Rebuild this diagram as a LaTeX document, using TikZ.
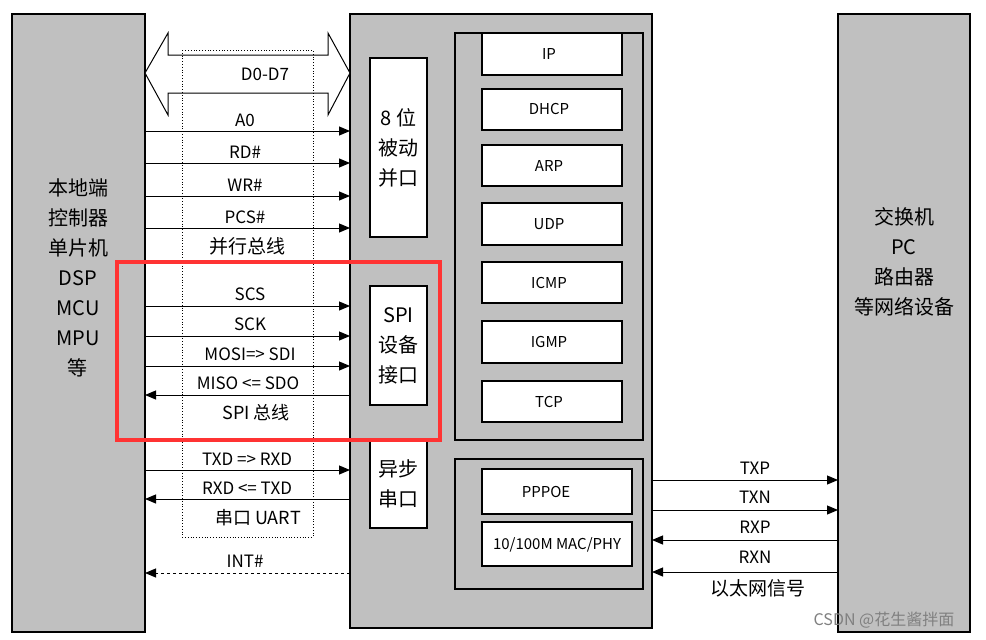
\documentclass[tikz,border=0pt]{standalone}
\usepackage{fontspec}
\setmainfont{Noto Sans CJK SC}
\usetikzlibrary{arrows.meta}
\definecolor{gr}{RGB}{192,192,192}
\begin{document}
\begin{tikzpicture}[x=1pt,y=-1pt,
 blk/.style={draw=black,line width=2pt,fill=gr},
 wb/.style={draw=black,line width=1.5pt,fill=white},
 ib/.style={draw=black,line width=1.2pt,fill=gr},
 sig/.style={line width=1pt,-{Triangle[length=11pt,width=9pt]}},
 lbl/.style={font=\fontsize{17}{17}\selectfont,inner sep=0pt},
 sl/.style={font=\fontsize{15}{15}\selectfont,inner sep=0pt},
 big/.style={font=\fontsize{20}{30}\selectfont,align=center,inner sep=0pt}]
\useasboundingbox (0,0) rectangle (986,640);
\fill[white] (0,0) rectangle (986,640);
\draw[blk] (12,14) rectangle (145,632);
\draw[blk] (350,14) rectangle (652,628);
\draw[blk] (838,14) rectangle (970,632);
\node[big] (L) at (78,278) {本地端\\控制器\\单片机\\DSP\\MCU\\MPU\\等};
\node[big] (R) at (904,262) {交换机\\PC\\路由器\\等网络设备};
\draw[line width=1pt,fill=white] (145,73)--(168,33)--(168,55)--(328,55)--(328,33)--(350,73)--(328,115)--(328,93)--(168,93)--(168,115)--cycle;
\draw[dotted,line width=0.8pt] (182,50) rectangle (313,537);
\node[lbl] (d07) at (265,74) {D0-D7};
% parallel
\node[wb,minimum width=57pt,minimum height=179pt,inner sep=0pt] (par) at (398.5,147.5) {};
\node[big] at (par) {8 位\\被动\\并口};
\foreach \y/\t in {131/A0,163/RD\#,196/WR\#,228/PCS\#}{
 \draw[sig] (145,\y)--(350,\y);
 \node[lbl] at (245,\y-11) {\t};}
\node[font=\fontsize{19}{19}\selectfont,inner sep=0pt] at (247,246) {并行总线};
% SPI
\node[wb,minimum width=57pt,minimum height=119pt,inner sep=0pt] (spi) at (398.5,345.5) {};
\node[big] at (spi) {SPI\\设备\\接口};
\foreach \y/\t in {306/SCS,336/SCK,366/{MOSI=> SDI}}{
 \draw[sig] (145,\y)--(350,\y);
 \node[lbl] at (250,\y-12) {\t};}
\draw[sig] (350,395)--(145,395);
\node[lbl] at (248,383) {MISO <= SDO};
\node[font=\fontsize{18}{18}\selectfont,inner sep=0pt] at (256,413) {SPI 总线};
% UART
\node[wb,minimum width=57pt,minimum height=88pt,inner sep=0pt] (uart) at (398.5,484) {};
\node[big] at (uart) {异步\\串口};
\draw[sig] (145,470)--(350,470);
\node[lbl] at (247,459) {TXD => RXD};
\draw[sig] (350,499)--(145,499);
\node[lbl] at (247,488) {RXD <= TXD};
\node[font=\fontsize{18}{18}\selectfont,inner sep=0pt] at (258,518) {串口 UART};
\draw[sig,dashed] (350,573)--(145,573);
\node[lbl] at (245,561) {INT\#};
% red frame
\draw[red!80!white,line width=4pt] (117,262) rectangle (440,440);
% protocol stack
\draw[ib] (455,33) rectangle (643,440);
\foreach \a/\b/\t in {33/75/IP,89/130/DHCP,145/186/ARP,203/245/UDP,262/303/ICMP,321/363/IGMP,381/422/TCP}{
 \draw[wb] (482,\a) rectangle (622,\b);
 \node[sl] at (549,{(\a+\b)/2}) {\t};}
\draw[ib] (455,459) rectangle (643,589);
\draw[wb] (482,469) rectangle (632,514);
\node[sl] (ppp) at (546,492) {PPPOE};
\draw[wb] (482,522) rectangle (632,566);
\node[sl] (mac) at (557,545) {10/100M MAC/PHY};
% ethernet
\draw[sig] (652,480)--(838,480);
\draw[sig] (652,510)--(838,510);
\draw[sig] (838,540)--(652,540);
\draw[sig] (838,572)--(652,572);
\node[lbl] at (755,468) {TXP};
\node[lbl] at (755,497) {TXN};
\node[lbl] at (755,527) {RXP};
\node[lbl] at (755,557) {RXN};
\node[font=\fontsize{19}{19}\selectfont,inner sep=0pt] at (758,588) {以太网信号};
\node[font=\fontsize{16}{16}\selectfont,inner sep=0pt,text=gray] at (884,620) {CSDN @花生酱拌面};
\end{tikzpicture}
\end{document}
